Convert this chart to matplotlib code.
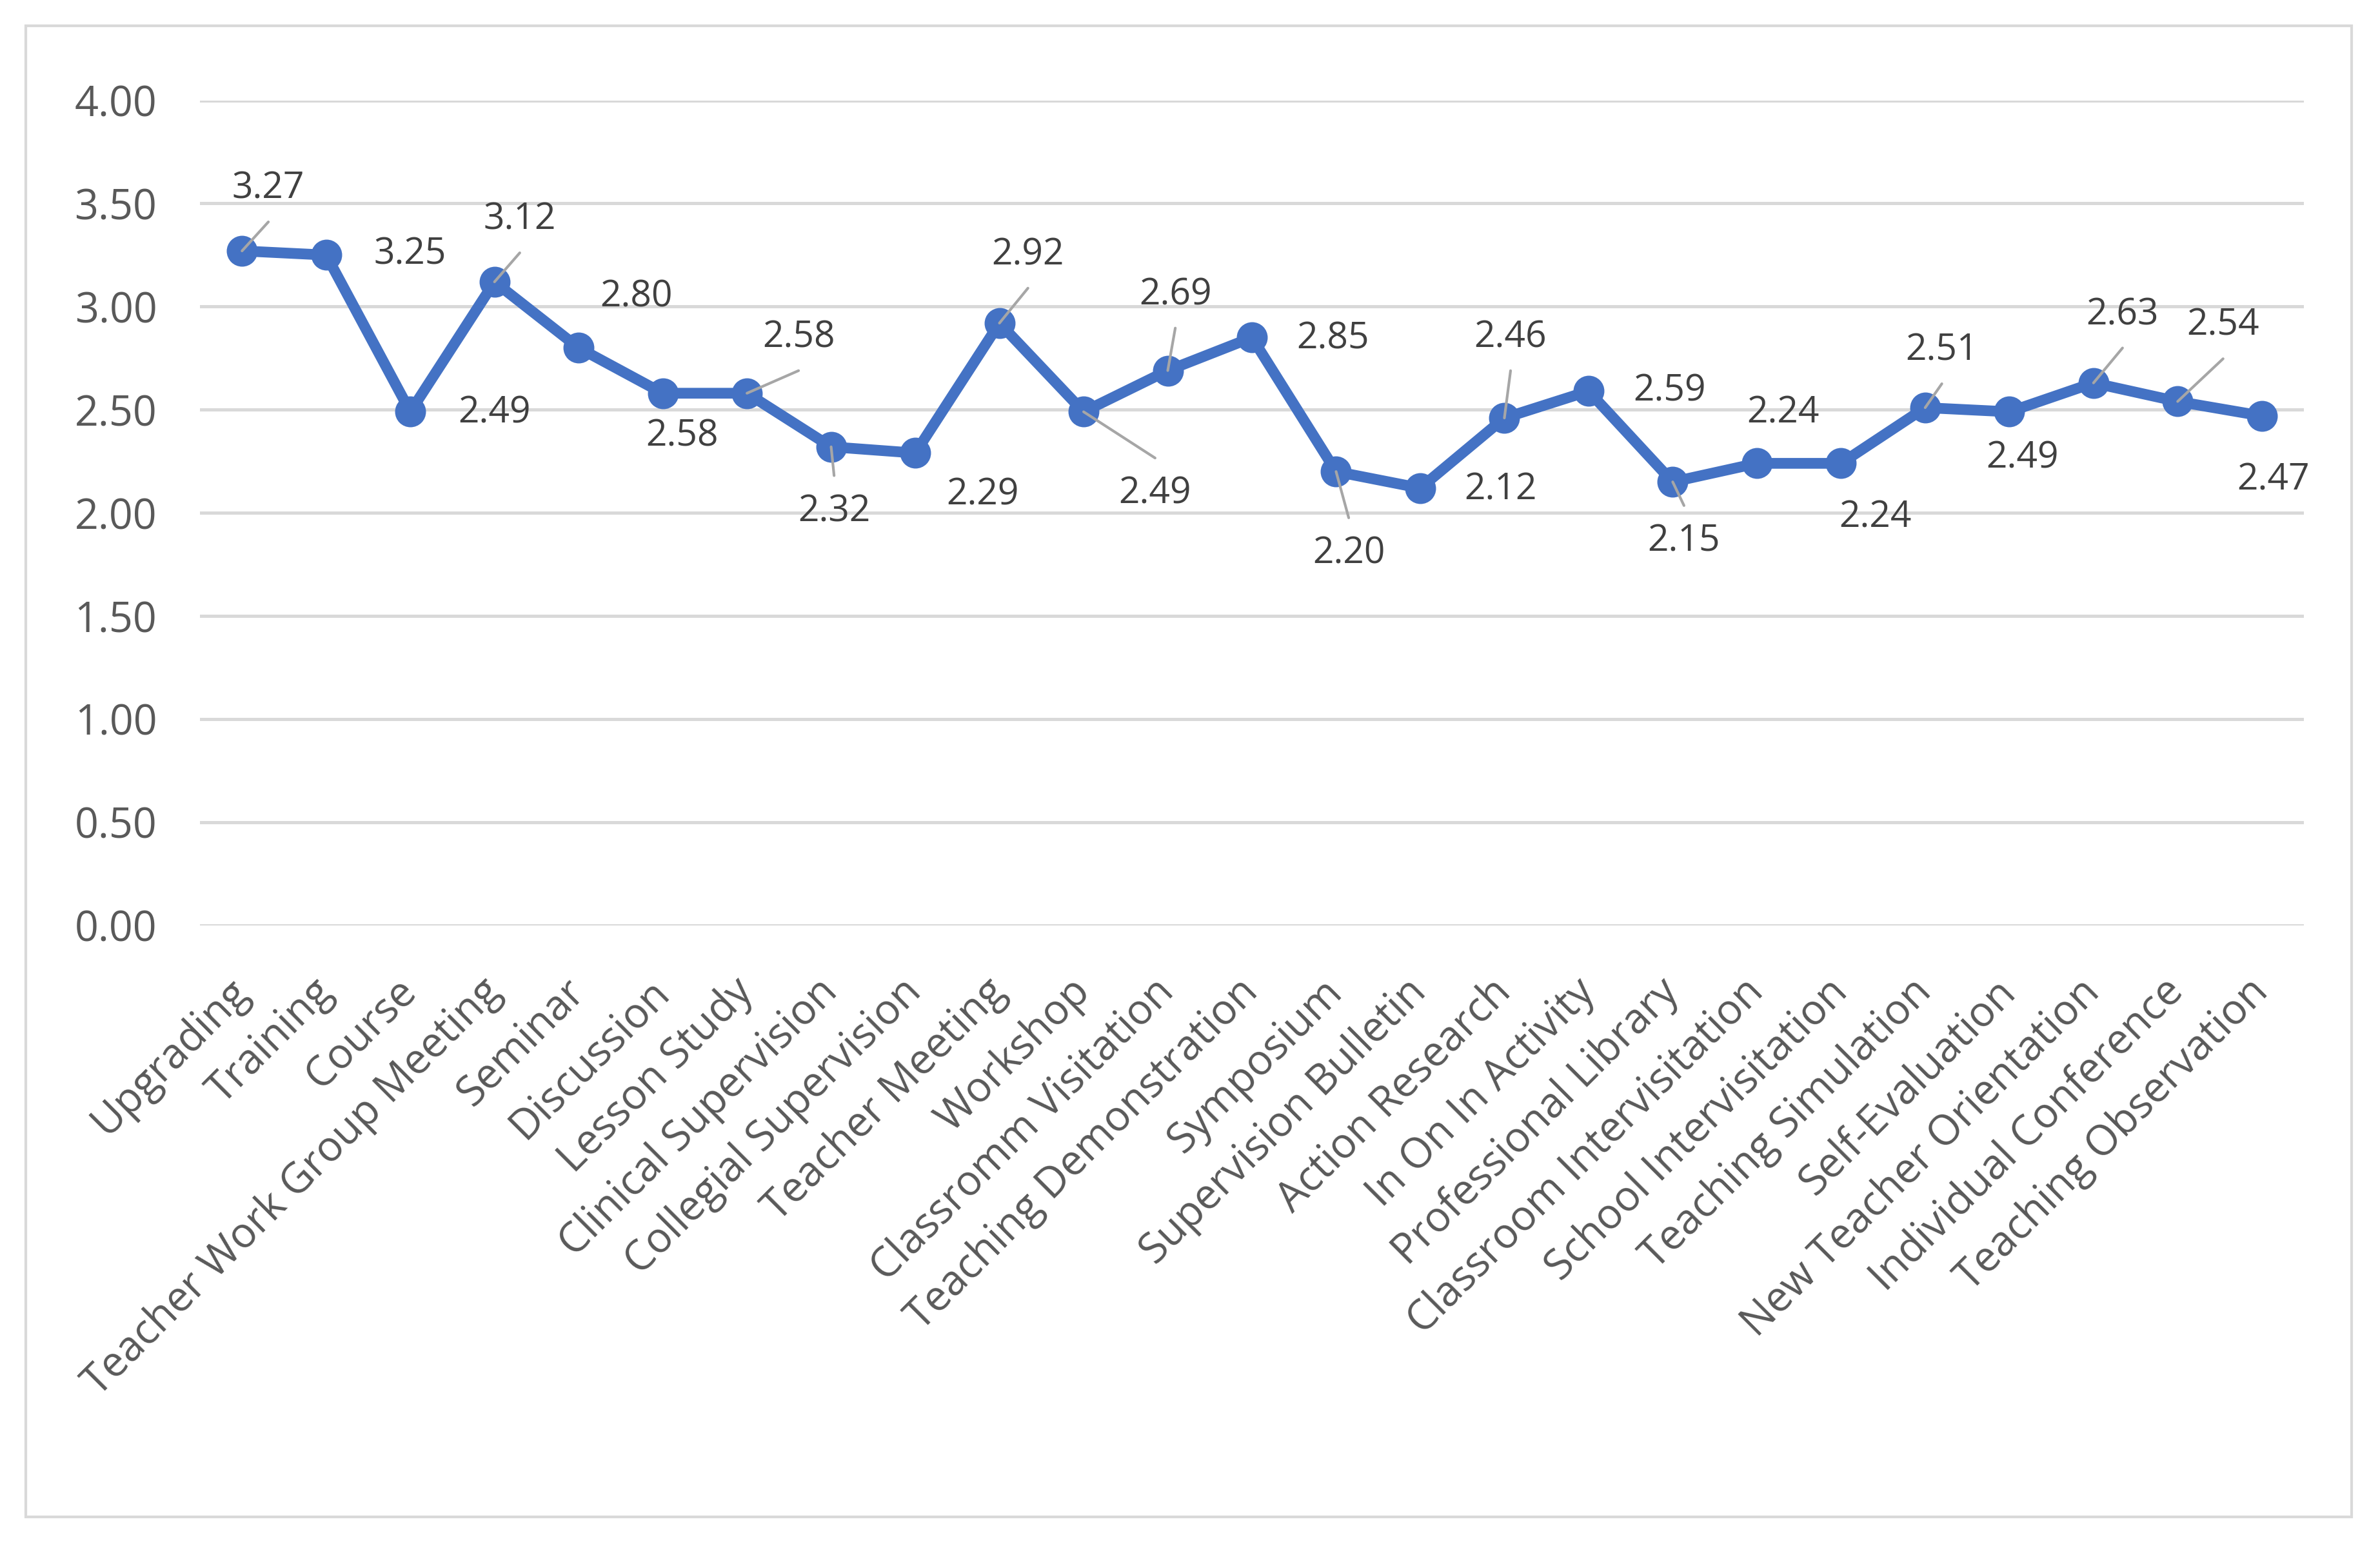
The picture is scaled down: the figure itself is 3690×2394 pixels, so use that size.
import matplotlib
matplotlib.use("Agg")
import matplotlib.pyplot as plt
from matplotlib.patches import Rectangle

plt.rcParams['font.family'] = ['Open Sans', 'DejaVu Sans']

# data
categories = ["Upgrading", "Training", "Course", "Teacher Work Group Meeting", "Seminar",
              "Discussion", "Lesson Study", "Clinical Supervision", "Collegial Supervision",
              "Teacher Meeting", "Workshop", "Classromm Visitation", "Teaching Demonstration",
              "Symposium", "Supervision Bulletin", "Action Research", "In On In Activity",
              "Professional Library", "Classroom Intervisitation", "School Intervisitation",
              "Teaching Simulation", "Self-Evaluation", "New Teacher Orientation",
              "Individual Conference", "Teaching Observation"]
scores = [3.27, 3.25, 2.49, 3.12, 2.80, 2.58, 2.58, 2.32, 2.29, 2.92, 2.49, 2.69, 2.85,
          2.20, 2.12, 2.46, 2.59, 2.15, 2.24, 2.24, 2.51, 2.49, 2.63, 2.54, 2.47]
y_ticks = [0, 0.5, 1.0, 1.5, 2.0, 2.5, 3.0, 3.5, 4.0]

# data label placement (offset in points from the marker) and leader lines
label_offsets = [(9.8, 23.0), (31.2, 0), (31.4, -0.5), (9.4, 23.0), (21.4, 18.7),
                 (7.2, -16.1), (19.2, 20.6), (1.1, -24.2), (25.0, -15.8), (10.6, 25.2),
                 (26.6, -30.7), (2.8, 28.0), (30.2, -0.7), (4.7, -30.7), (30.0, -0.7),
                 (2.3, 29.8), (30.2, -0.2), (4.2, -22.3), (9.8, 18.7), (12.8, -20.2),
                 (6.2, 21.1), (4.8, -17.5), (10.8, 25.2), (16.9, 28.1), (4.3, -24.0)]
has_leader = [1, 0, 0, 1, 0, 0, 1, 1, 0, 1, 1, 1, 0, 1, 0, 1, 0, 1, 0, 0, 1, 0, 1, 1, 0]

fig = plt.figure(figsize=(12.3, 7.98), dpi=300)
ax = fig.add_axes([310 / 3690, 0.4007, (3572 - 310) / 3690, 0.9350 - 0.4007])

x = list(range(len(categories)))
ax.plot(x, scores, color='#4472C4', lw=4.0, marker='o', markersize=10.5,
        solid_joinstyle='round', zorder=3)

for i, v in enumerate(scores):
    dx, dy = label_offsets[i]
    ax.annotate(f"{v:.2f}", xy=(i, v), xytext=(dx, dy), textcoords='offset points',
                ha='center', va='center', fontsize=13.7, color='#404040', zorder=5)
    if has_leader[i]:
        ey = dy - 12.2 if dy > 0 else dy + 13.5
        ax.annotate('', xy=(i, v), xytext=(dx, ey), textcoords='offset points',
                    arrowprops=dict(arrowstyle='-', color='#A6A6A6', lw=1.0,
                                    shrinkA=0, shrinkB=0), zorder=4)

ax.set_xlim(-0.5, len(categories) - 0.5)
ax.set_ylim(0, 4)
ax.set_yticks(y_ticks)
ax.set_yticklabels([f"{t:.2f}" for t in y_ticks])
ax.set_xticks(x)
ax.set_xticklabels(categories, rotation=45, ha='right', va='center', rotation_mode='anchor')

ax.grid(axis='y', color='#D9D9D9', lw=1.2)
ax.set_axisbelow(True)
for s in ax.spines.values():
    s.set_visible(False)
ax.tick_params(axis='both', length=0, labelsize=15.5, labelcolor='#595959')
ax.tick_params(axis='y', pad=16)
ax.tick_params(axis='x', pad=22.5)

# chart border
fig.patches.append(Rectangle((40 / 3690, 1 - 2352 / 2394), (3646 - 40) / 3690,
                             (2352 - 40) / 2394, transform=fig.transFigure,
                             fill=False, edgecolor='#D9D9D9', lw=1.0))

fig.savefig("out.png", dpi=300, facecolor='white')
